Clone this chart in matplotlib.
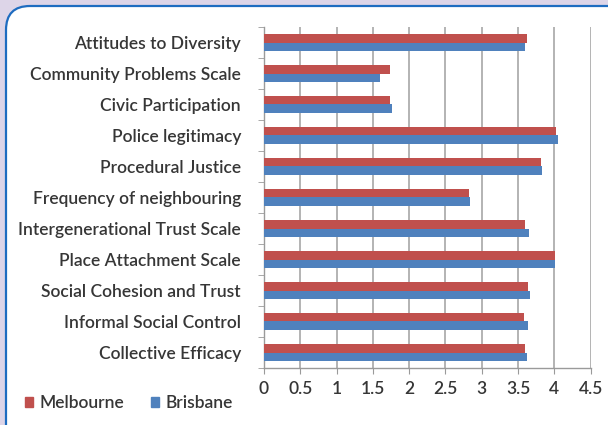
import matplotlib.pyplot as plt
import numpy as np
from matplotlib.patches import FancyBboxPatch, Patch

categories = ["Collective Efficacy", "Informal Social Control", "Social Cohesion and Trust",
              "Place Attachment Scale", "Intergenerational Trust Scale", "Frequency of neighbouring",
              "Procedural Justice", "Police legitimacy", "Civic Participation",
              "Community Problems Scale", "Attitudes to Diversity"]
melbourne = [3.60, 3.58, 3.64, 4.01, 3.60, 2.82, 3.82, 4.03, 1.74, 1.73, 3.63]
brisbane = [3.63, 3.64, 3.66, 4.01, 3.65, 2.84, 3.83, 4.05, 1.76, 1.60, 3.60]
xticks = [0, 0.5, 1, 1.5, 2, 2.5, 3, 3.5, 4, 4.5]

red = "#c0504d"
blue = "#4f81bd"
txt = "#363636"
plt.rcParams['font.family'] = ['Lato', 'DejaVu Sans']

W, H = 608, 425
fig = plt.figure(figsize=(6.08, 4.25), dpi=100)
fig.patch.set_facecolor("#ddd5e8")

# background axes in pixel units for the white rounded panel (runs off right/bottom)
bg = fig.add_axes([0, 0, 1, 1], zorder=-5)
bg.set_xlim(0, W)
bg.set_ylim(0, H)
bg.axis("off")
bg.add_patch(FancyBboxPatch((6, -200), 900, H - 6 + 200,
                            boxstyle="round,pad=0,rounding_size=24",
                            facecolor="white", edgecolor="#1e6cc0", linewidth=1.6,
                            clip_on=False))

ax = fig.add_axes([264 / W, 1 - 368 / H, 326.6 / W, 341 / H])
ax.set_facecolor("none")

y = np.arange(len(categories))
h = 0.28
ax.barh(y + h / 2, melbourne, height=h, color=red, label="Melbourne", zorder=3)
ax.barh(y - h / 2, brisbane, height=h, color=blue, label="Brisbane", zorder=3)

ax.set_xlim(0, 4.5)
ax.set_ylim(-0.5, len(categories) - 0.5)
ax.set_xticks(xticks)
ax.set_xticklabels([f"{v:g}" for v in xticks])
ax.set_yticks(y)
ax.set_yticklabels(categories)
ax.set_yticks(np.arange(len(categories) + 1) - 0.5, minor=True)
ax.tick_params(axis="y", which="major", length=0, pad=16.5, labelsize=12.5, labelcolor=txt)
ax.tick_params(axis="y", which="minor", length=4, color="#9a9a9a", direction="out")
ax.tick_params(axis="x", length=4, color="#9a9a9a", pad=5, labelsize=12.5, labelcolor=txt)
for lab in ax.get_yticklabels() + ax.get_xticklabels():
    lab.set_fontweight("semibold")

ax.grid(axis="x", color="#b3b3b3", linewidth=1.4, zorder=0)
for s in ["top", "right"]:
    ax.spines[s].set_visible(False)
for s in ["left", "bottom"]:
    ax.spines[s].set_color("#9a9a9a")
    ax.spines[s].set_linewidth(1.0)

handles = [Patch(color=red, label="Melbourne"), Patch(color=blue, label="Brisbane")]
leg = fig.legend(handles=handles, loc="center left", bbox_to_anchor=(25 / W, 22 / H), ncol=2,
                 frameon=False, borderpad=0, borderaxespad=0,
                 handlelength=0.46, handleheight=0.46, handletextpad=0.4,
                 columnspacing=1.5, prop={"size": 12.5, "weight": "semibold"})
for t in leg.get_texts():
    t.set_color(txt)

fig.savefig("out.png", dpi=100, facecolor=fig.get_facecolor())
